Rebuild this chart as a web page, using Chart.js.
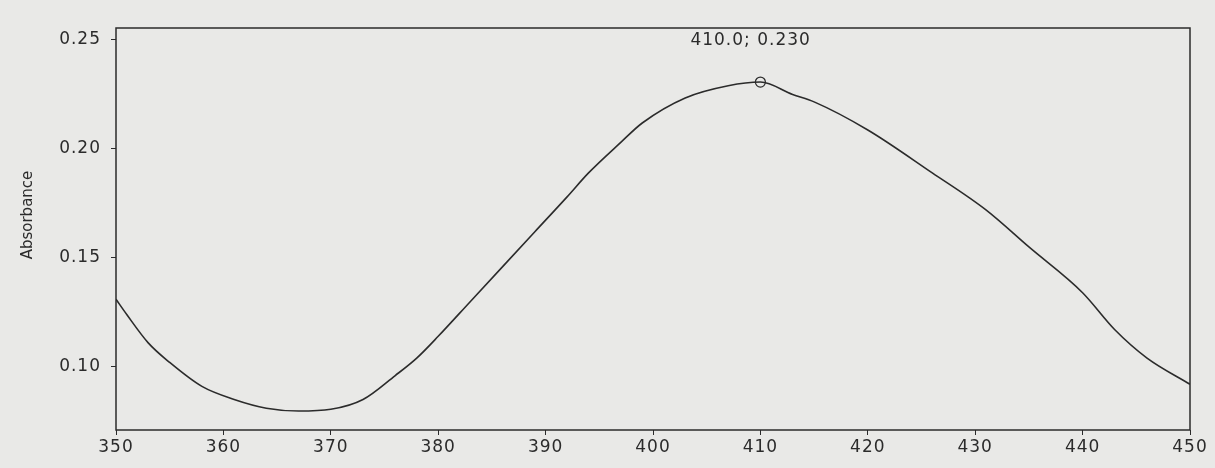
<!DOCTYPE html>
<html>
<head>
<meta charset="utf-8">
<script src="https://cdn.jsdelivr.net/npm/chart.js@4"></script>
<style>
  html, body { margin: 0; padding: 0; background: #e9e9e7; }
  #wrap { width: 1215px; height: 468px; }
</style>
</head>
<body>
<div id="wrap"><canvas id="spectrum" width="1215" height="468"></canvas></div>
<script>
// wavelength (nm) and absorbance
const wavelengths = [350, 351, 353, 355, 358, 361, 364, 367, 370, 373, 376, 378, 380, 383, 386, 389, 392, 394, 397, 399, 403, 407, 410, 413, 415, 420, 426, 431, 435, 440, 443, 446, 450]
const absorbance  = [0.131, 0.124, 0.111, 0.102, 0.091, 0.085, 0.081, 0.0797, 0.0805, 0.085, 0.096, 0.104, 0.114, 0.130, 0.146, 0.162, 0.178, 0.189, 0.203, 0.2119, 0.2234, 0.2290, 0.2307, 0.225, 0.2216, 0.2087, 0.189, 0.172, 0.155, 0.134, 0.117, 0.104, 0.092]
const xTicks = [350, 360, 370, 380, 390, 400, 410, 420, 430, 440, 450]
const yTicks = [0.10, 0.15, 0.20, 0.25]
const peak = { x: 410, y: 0.2307, label: '410.0; 0.230' }

const ink = '#2b2b2b'
const font = { family: 'DejaVu Sans', size: 17 }

const frame = {
    id: 'frame',
    beforeDraw(chart) {
        chart.ctx.letterSpacing = '1px'
    },
    afterDraw(chart) {
        const { ctx, chartArea: a, scales } = chart
        ctx.save()
        ctx.strokeStyle = ink
        ctx.lineWidth = 1.5
        ctx.strokeRect(a.left, a.top, a.right - a.left, a.bottom - a.top)
        ctx.fillStyle = ink
        ctx.letterSpacing = '1px'
        // peak label
        ctx.font = '17px "DejaVu Sans"'
        ctx.textAlign = 'left'
        ctx.textBaseline = 'middle'
        ctx.fillText(peak.label, scales.x.getPixelForValue(peak.x) - 70, scales.y.getPixelForValue(peak.y) - 41)
        // axis title
        ctx.letterSpacing = '0px'
        ctx.font = '15px "DejaVu Sans"'
        ctx.translate(28, 215)
        ctx.rotate(-Math.PI / 2)
        ctx.textAlign = 'center'
        ctx.fillText('Absorbance', 0, 0)
        ctx.restore()
    }
}

new Chart(document.getElementById('spectrum'), {
    type: 'scatter',
    data: {
        datasets: [{
            data: wavelengths.map((w, i) => ({ x: w, y: absorbance[i] })),
            showLine: true,
            borderColor: ink,
            borderWidth: 1.6,
            pointRadius: 0,
            cubicInterpolationMode: 'monotone'
        }, {
            data: [{ x: peak.x, y: peak.y }],
            pointRadius: 5,
            pointBackgroundColor: 'rgba(0,0,0,0)',
            pointBorderColor: ink,
            pointBorderWidth: 1.2
        }]
    },
    options: {
        responsive: false,
        animation: false,
        layout: { padding: { top: 28, right: 25, left: 0, bottom: 0 } },
        plugins: { legend: { display: false }, tooltip: { enabled: false } },
        scales: {
            x: {
                type: 'linear',
                min: 350,
                max: 450,
                afterBuildTicks: s => { s.ticks = xTicks.map(v => ({ value: v })) },
                afterFit: s => { s.height = 38 },
                grid: { display: true, drawOnChartArea: false, drawTicks: true, tickLength: 5, color: ink },
                border: { display: false },
                ticks: { color: ink, font: font, padding: 2, maxRotation: 0 }
            },
            y: {
                min: 0.071,
                max: 0.2555,
                afterBuildTicks: s => { s.ticks = yTicks.map(v => ({ value: v })) },
                afterFit: s => { s.width = 116 },
                grid: { display: true, drawOnChartArea: false, drawTicks: true, tickLength: 5, color: ink },
                border: { display: false },
                ticks: { color: ink, font: font, padding: 10, callback: v => v.toFixed(2) }
            }
        }
    },
    plugins: [frame]
})
</script>
</body>
</html>
